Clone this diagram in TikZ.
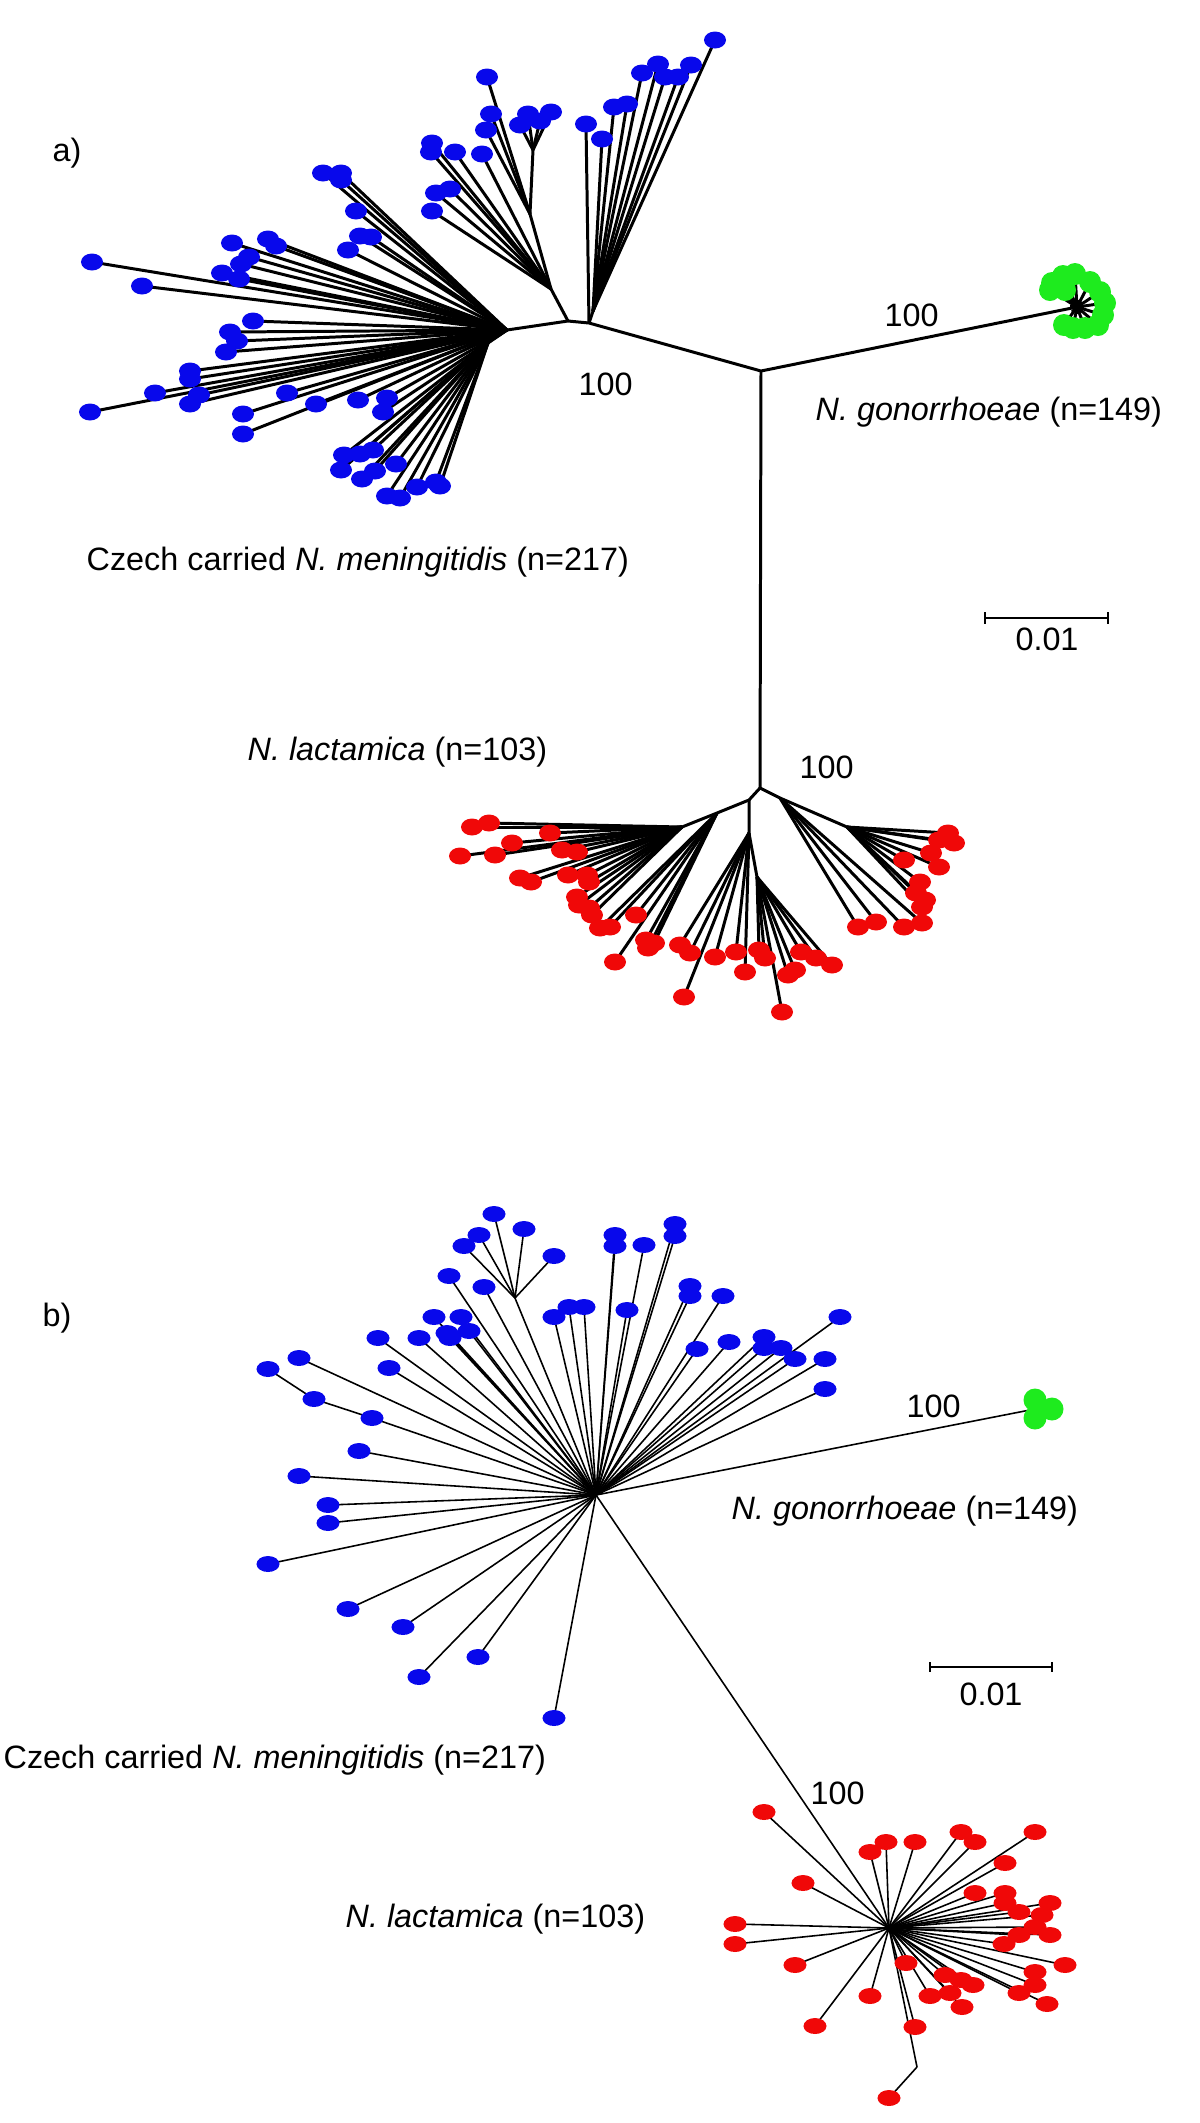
\documentclass[tikz,border=0pt]{standalone}
\usepackage{fontspec}
\setmainfont{Liberation Sans}
\usetikzlibrary{backgrounds}
\definecolor{menblue}{RGB}{8,8,235}
\definecolor{lacred}{RGB}{240,8,8}
\definecolor{gongreen}{RGB}{30,235,30}
\tikzset{
  brancha/.style={line width=0.85pt, draw=black},
  branchb/.style={line width=0.45pt, draw=black},
  mendot/.style={fill=menblue},
  lacdot/.style={fill=lacred},
  gondot/.style={fill=gongreen},
  lbl/.style={font=\fontsize{9.2}{11}\selectfont, inner sep=0pt, anchor=base west},
  sclbl/.style={font=\fontsize{9.2}{11}\selectfont, inner sep=0pt, anchor=base}
}
% #1 hub, #2 dot style, #3 branch style, #4 radii, #5 leaves
\newcommand{\drawleaves}[5]{%
  \foreach \x/\y in {#5} {
    \begin{scope}[on background layer]
      \draw[#3] (#1) -- (\x,\y);
    \end{scope}
    \fill[#2] (\x,\y) ellipse (#4);
  }}

\begin{document}
\begin{tikzpicture}[x=0.01cm, y=-0.01cm]
  \useasboundingbox (0,0) rectangle (1200,2123);

  % ---- a) ----
  \coordinate (C) at (761,371);
  \coordinate (N3) at (589,323);
  \coordinate (T) at (593,311);
  \coordinate (N2) at (568,321);
  \coordinate (S1) at (551,289);
  \coordinate (S2) at (530,214);
  \coordinate (S3) at (533,150);
  \coordinate (H) at (507,330);
  \coordinate (L1) at (488,343);
  \coordinate (G) at (1077,307);
  \coordinate (R) at (760,788);
  \coordinate (RL) at (749,800);
  \coordinate (RL2) at (717,813);
  \coordinate (RLL) at (682,827);
  \coordinate (RC) at (749,833);
  \coordinate (RC2) at (757,877);
  \coordinate (RR) at (780,798);
  \coordinate (RRR) at (847,827);

  \draw[brancha] (G) -- (C) -- (N3) -- (N2) -- (H) -- (L1);
  \draw[brancha] (N3) -- (T);
  \draw[brancha] (N2) -- (S1) -- (S2) -- (S3);
  \draw[brancha] (C) -- (R);
  \draw[brancha] (R) -- (RL) -- (RL2) -- (RLL);
  \draw[brancha] (RL) -- (RC) -- (RC2);
  \draw[brancha] (R) -- (RR) -- (RRR);

  \drawleaves{S3}{mendot}{brancha}{0.11cm and 0.085cm}{528/114, 540/121, 551/112, 520/125}
  \drawleaves{S2}{mendot}{brancha}{0.11cm and 0.085cm}{487/77, 491/114, 486/130}
  \drawleaves{S1}{mendot}{brancha}{0.11cm and 0.085cm}{432/143, 431/152, 455/152, 482/154, 436/193, 450/189, 432/211}
  \drawleaves{H}{mendot}{brancha}{0.11cm and 0.085cm}{323/173, 341/173, 341/180, 356/211, 360/236, 371/237, 348/250, 232/243, 268/239, 276/246, 249/257, 241/264, 222/273, 239/279, 92/262, 142/286, 253/321, 230/332, 237/341, 226/352, 190/371, 190/379, 199/395, 190/404, 155/393, 90/412, 287/393, 316/404, 243/414, 243/434, 358/400, 387/398, 383/412}
  \drawleaves{L1}{mendot}{brancha}{0.11cm and 0.085cm}{344/455, 360/454, 373/450, 341/470, 362/479, 375/471, 396/464, 387/496, 400/498, 417/487, 436/482, 440/486}
  \drawleaves{T}{mendot}{brancha}{0.11cm and 0.085cm}{715/40, 691/65, 642/73, 658/64, 665/77, 678/77, 614/107, 627/104, 602/139}
  \drawleaves{N3}{mendot}{brancha}{0.11cm and 0.085cm}{586/124}

  \drawleaves{RL2}{lacdot}{brancha}{0.11cm and 0.085cm}{600/928, 610/927, 636/915, 615/962, 646/940, 654/943, 648/948}
  \drawleaves{RLL}{lacdot}{brancha}{0.11cm and 0.085cm}{472/827, 489/823, 550/833, 512/843, 460/856, 495/855, 562/850, 577/852, 520/878, 531/882, 568/875, 587/875, 589/882, 577/897, 579/905, 589/908, 592/915}
  \drawleaves{RC}{lacdot}{brancha}{0.11cm and 0.085cm}{680/945, 690/953, 684/997, 715/957, 736/952, 745/972}
  \drawleaves{RC2}{lacdot}{brancha}{0.11cm and 0.085cm}{759/950, 765/958, 782/1012, 788/975, 795/970, 801/952, 816/958, 832/965}
  \drawleaves{RR}{lacdot}{brancha}{0.11cm and 0.085cm}{858/927, 876/922, 904/927, 922/923}
  \drawleaves{RRR}{lacdot}{brancha}{0.11cm and 0.085cm}{904/860, 916/893, 925/900, 920/882, 922/907, 931/853, 939/867, 948/833, 954/843, 939/840}

  \drawleaves{G}{gondot}{brancha}{0.11cm and 0.11cm}{1052/283, 1063/276, 1075/274, 1065/290, 1090/282, 1100/292, 1105/303, 1103/315, 1098/325, 1085/328, 1073/328, 1064/325, 1050/290}
  \foreach \a in {0,45,...,315}
    \draw[line width=0.9pt] (G) -- ++(\a:0.07cm);

  \node[lbl] (tagA) at (52,161) {a)};
  \node[lbl] (menA) at (86,570) {Czech carried \textit{N. meningitidis} (n=217)};
  \node[lbl] (lacA) at (247,760) {\textit{N. lactamica} (n=103)};
  \node[lbl] (gonA) at (815,420) {\textit{N. gonorrhoeae} (n=149)};
  \node[lbl] (bsGonA) at (884,326) {100};
  \node[lbl] (bsMenA) at (578,395) {100};
  \node[lbl] (bsLacA) at (799,778) {100};

  \coordinate (sbA1) at (985,618);
  \coordinate (sbA2) at (1108,618);
  \draw[line width=0.7pt] (sbA1) -- (sbA2);
  \draw[line width=0.7pt] (sbA1) ++(0,-6) -- ++(0,12);
  \draw[line width=0.7pt] (sbA2) ++(0,-6) -- ++(0,12);
  \node[sclbl] (sclA) at (1047,650) {0.01};

  % ---- b) ----
  \coordinate (B) at (596,1495);
  \coordinate (BS) at (515,1298);
  \coordinate (GB) at (1035,1409);
  \coordinate (RB) at (889,1928);
  \coordinate (RBk) at (917,2067);

  \draw[branchb] (BS) -- (B) -- (GB);
  \draw[branchb] (B) -- (RB) -- (RBk);
  \begin{scope}[on background layer]
    \draw[branchb] (B) -- (372,1418) -- (314,1399) -- (268,1369);
    \draw[branchb] (RBk) -- (889,2098);
  \end{scope}
  \foreach \x/\y in {372/1418, 314/1399, 268/1369}
    \fill[mendot] (\x,\y) ellipse (0.115cm and 0.08cm);
  \fill[lacdot] (889,2098) ellipse (0.115cm and 0.08cm);

  \drawleaves{BS}{mendot}{branchb}{0.115cm and 0.08cm}{494/1214, 524/1229, 479/1235, 464/1246, 554/1256}
  \drawleaves{B}{mendot}{branchb}{0.115cm and 0.08cm}{449/1276, 484/1287, 554/1317, 569/1307, 584/1307, 615/1235, 615/1246, 644/1245, 675/1224, 675/1236, 627/1310, 690/1286, 690/1296, 723/1296, 697/1349, 729/1342, 764/1337, 764/1348, 781/1348, 795/1359, 825/1359, 840/1317, 825/1389, 434/1317, 461/1317, 447/1333, 450/1338, 469/1331, 419/1338, 378/1338, 389/1368, 299/1358, 359/1451, 299/1476, 328/1505, 328/1523, 268/1564, 348/1609, 403/1627, 478/1657, 419/1677, 554/1718}
  \drawleaves{RB}{lacdot}{branchb}{0.115cm and 0.08cm}{764/1812, 870/1852, 886/1842, 915/1842, 961/1832, 975/1842, 1035/1832, 1005/1863, 803/1883, 975/1893, 1005/1893, 1005/1903, 1019/1912, 1050/1903, 1042/1915, 735/1924, 735/1944, 1035/1927, 1019/1935, 1050/1935, 1004/1944, 795/1965, 906/1963, 1065/1965, 945/1975, 961/1980, 973/1985, 1035/1972, 1035/1985, 1019/1993, 1047/2004, 870/1996, 930/1996, 950/1993, 962/2007, 815/2026, 915/2027}
  \drawleaves{GB}{gondot}{branchb}{0.115cm and 0.115cm}{1035/1400, 1052/1409, 1035/1418}

  \node[lbl] (tagB) at (42,1326) {b)};
  \node[lbl] (menB) at (3,1768) {Czech carried \textit{N. meningitidis} (n=217)};
  \node[lbl] (lacB) at (345,1927) {\textit{N. lactamica} (n=103)};
  \node[lbl] (gonB) at (731,1519) {\textit{N. gonorrhoeae} (n=149)};
  \node[lbl] (bsGonB) at (906,1417) {100};
  \node[lbl] (bsLacB) at (810,1804) {100};

  \coordinate (sbB1) at (930,1667);
  \coordinate (sbB2) at (1052,1667);
  \draw[line width=0.5pt] (sbB1) -- (sbB2);
  \draw[line width=0.5pt] (sbB1) ++(0,-5) -- ++(0,10);
  \draw[line width=0.5pt] (sbB2) ++(0,-5) -- ++(0,10);
  \node[sclbl] (sclB) at (991,1705) {0.01};
\end{tikzpicture}
\end{document}
